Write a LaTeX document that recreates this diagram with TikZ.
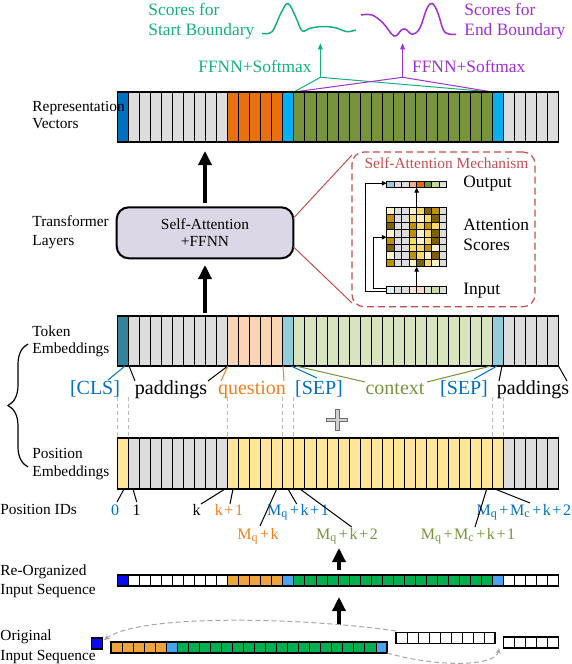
\documentclass[tikz,border=0pt]{standalone}
\usepackage{fontspec}
\setmainfont{Liberation Serif}
\usetikzlibrary{arrows.meta,decorations.pathreplacing}
\definecolor{repcls}{HTML}{0070C0}
\definecolor{reppad}{HTML}{DDDDDD}
\definecolor{repq}{HTML}{E8700F}
\definecolor{repsep}{HTML}{00B0F0}
\definecolor{repctx}{HTML}{77933C}
\definecolor{tokcls}{HTML}{31849B}
\definecolor{tokpad}{HTML}{DDDDDD}
\definecolor{tokq}{HTML}{FBD4B4}
\definecolor{toksep}{HTML}{92CDDC}
\definecolor{tokctx}{HTML}{D7E4BD}
\definecolor{poscls}{HTML}{FFE699}
\definecolor{pospad}{HTML}{DDDDDD}
\definecolor{posq}{HTML}{FFE699}
\definecolor{possep}{HTML}{FFE699}
\definecolor{posctx}{HTML}{FFE699}
\definecolor{reocls}{HTML}{0A0AF0}
\definecolor{reopad}{HTML}{FFFFFF}
\definecolor{reoq}{HTML}{EDA43F}
\definecolor{reosep}{HTML}{4AA3F0}
\definecolor{reoctx}{HTML}{00B050}
\definecolor{boxfill}{HTML}{DCD7E6}
\definecolor{redc}{HTML}{C0504D}
\definecolor{greenc}{HTML}{16B07A}
\definecolor{purplec}{HTML}{A030D0}
\definecolor{lblblue}{HTML}{0070C0}
\definecolor{lblorange}{HTML}{F07F20}
\definecolor{lblgreen}{HTML}{77933C}
\definecolor{dashgray}{HTML}{BBBBBB}
\definecolor{mL}{HTML}{FFF2CC}
\definecolor{mY}{HTML}{FFD966}
\definecolor{mA}{HTML}{BF9000}
\definecolor{mD}{HTML}{7F6000}
\definecolor{mG}{HTML}{DDDDDD}
\definecolor{oA}{HTML}{92CDDC}
\definecolor{oC}{HTML}{F4B183}
\definecolor{oD}{HTML}{E46C0A}
\definecolor{oE}{HTML}{77933C}
\definecolor{oF}{HTML}{C4D79B}
\definecolor{iA}{HTML}{DAEEF3}
\definecolor{iC}{HTML}{FCE4D6}
\definecolor{iD}{HTML}{FAD9C4}
\definecolor{iE}{HTML}{D7E4BD}
\definecolor{iF}{HTML}{C9DAA8}
\newcommand{\segcol}[2]{%
  \ifnum#1=0\relax\def\mycc{#2cls}%
  \else\ifnum#1<10\relax\def\mycc{#2pad}%
  \else\ifnum#1<15\relax\def\mycc{#2q}%
  \else\ifnum#1=15\relax\def\mycc{#2sep}%
  \else\ifnum#1<34\relax\def\mycc{#2ctx}%
  \else\ifnum#1=34\relax\def\mycc{#2sep}%
  \else\def\mycc{#2pad}%
  \fi\fi\fi\fi\fi\fi}
\newcommand{\cellbar}[3]{%
  \foreach \i in {0,...,39}{%
    \segcol{\i}{#1}%
    \filldraw[fill=\mycc,draw=black,line width=0.45pt] ({117.5+\i*11.025},#2) rectangle ({117.5+(\i+1)*11.025},#3);
  }%
  \draw[line width=0.7pt] (117.5,#2) rectangle (558.5,#3);
}
\newcommand{\plusq}{\hspace{0.1em}+\hspace{0.1em}}
\begin{document}
\begin{tikzpicture}[x=0.5pt,y=-0.5pt,
  lbl/.style={anchor=west,inner sep=0pt,font=\fontsize{7.7}{9}\selectfont,text height=5.2pt,text depth=1.6pt},
  big/.style={font=\fontsize{8.7}{10}\selectfont,inner sep=0pt,text height=5.9pt,text depth=1.8pt},
  tok/.style={font=\fontsize{10}{12}\selectfont,inner sep=0pt,text height=6.8pt,text depth=2pt},
  pid/.style={font=\fontsize{8}{9.6}\selectfont,inner sep=0pt,text height=5.5pt,text depth=1.5pt},
  thinl/.style={line width=0.5pt},
  bigarrow/.style={line width=1.65pt,-{Triangle[length=7pt,width=6.5pt]}},
  smarrow/.style={line width=0.5pt,-{Triangle[length=2.4pt,width=2.2pt]}},
  tinyarrow/.style={line width=0.5pt,-{Triangle[length=3pt,width=2.4pt]}},
  gdash/.style={dashgray,line width=0.5pt,dash pattern=on 2pt off 1.5pt},
  curvearrow/.style={gray!70,line width=0.5pt,dash pattern=on 2.5pt off 1.5pt,-{Stealth[length=3pt,width=2.6pt]}},
  cellw/.style={fill=white,draw=black,line width=0.45pt}]
\useasboundingbox (0,0) rectangle (572,664);

% ---------- top scores ----------
\node[big,text=greenc,anchor=west] (sc1) at (148,11.7) {Scores for};
\node[big,text=greenc,anchor=west] (sc2) at (148,31.7) {Start Boundary};
\node[big,text=purplec,anchor=west] (ec1) at (464,11.7) {Scores for};
\node[big,text=purplec,anchor=west] (ec2) at (464,31.7) {End Boundary};
\draw[greenc,line width=0.75pt] plot[smooth,tension=0.6] coordinates {(262,33.3) (272,31.7) (281,13) (288,3.5) (295.6,16.7) (302,30.7) (310,28.3) (319,26.7) (328.5,26.7) (337.6,28.3) (346.7,31.7) (355.8,30)};
\draw[purplec,line width=0.75pt] plot[smooth,tension=0.6] coordinates {(361,15) (372,15) (383,23) (394,36) (401.5,30) (405.8,29.3) (412.4,34.3) (419.7,28.3) (427,8.3) (432.5,3.5) (438,13.3) (443.4,30) (449,34) (456,34.3)};

\node[big,text=greenc,anchor=east] (fg) at (312,68.3) {FFNN+Softmax};
\node[big,text=purplec,anchor=west] (fp) at (411.7,68.3) {FFNN+Softmax};
\coordinate (ga) at (320.4,77.3);
\coordinate (gt) at (320.4,43.3);
\coordinate (pa) at (402.6,77.3);
\coordinate (pt) at (402.6,43.3);
\coordinate (cl) at (293.9,92);
\coordinate (cr) at (492.4,92);
\draw[greenc,tinyarrow] (ga) -- (gt);
\draw[greenc,thinl] (cl) -- (ga) -- (cr);
\draw[purplec,tinyarrow] (pa) -- (pt);
\draw[purplec,thinl] (cl) -- (pa) -- (cr);

% ---------- representation vectors ----------
\cellbar{rep}{92}{142}
\node[lbl] (lrep1) at (32,108) {Representation};
\node[lbl] (lrep2) at (32,125) {Vectors};

% ---------- transformer ----------
\coordinate (a1s) at (205,203);
\coordinate (a1e) at (205,151);
\draw[bigarrow] (a1s) -- (a1e);
\coordinate (a2s) at (205,313);
\coordinate (a2e) at (205,265);
\draw[bigarrow] (a2s) -- (a2e);
\node[draw,line width=1pt,fill=boxfill,rounded corners=6pt,minimum width=88.3pt,minimum height=25.5pt,align=center,font=\fontsize{7.7}{8.7}\selectfont,inner sep=0pt] (tbox) at (205,232.8) {Self-Attention\\+FFNN};
\node[lbl] (ltr1) at (32,223) {Transformer};
\node[lbl] (ltr2) at (32,242) {Layers};

% ---------- self-attention mechanism ----------
\node[draw=redc,line width=0.6pt,dash pattern=on 3.5pt off 2pt,rounded corners=6pt,minimum width=91.5pt,minimum height=77.35pt,inner sep=0pt] (sabox) at (443.5,229.35) {};
\coordinate (r1a) at (293.3,218.3);
\coordinate (r1b) at (352,155);
\coordinate (r2a) at (293.3,246.7);
\coordinate (r2b) at (352,303);
\draw[redc,thinl] (r1a) -- (r1b);
\draw[redc,thinl] (r2a) -- (r2b);
\node[font=\fontsize{7.7}{9}\selectfont,text=redc,inner sep=0pt] (satitle) at (446.5,163.5) {Self-Attention Mechanism};

\foreach \c [count=\k from 0] in {oA,mG,mG,oC,oD,oE,oF,mG}
  \filldraw[fill=\c,draw=black,line width=0.35pt] ({386.7+\k*7.5},181) rectangle ({386.7+(\k+1)*7.5},187.7);
\foreach \c [count=\k from 0] in {iA,mG,mG,iC,iD,iE,iF,mG}
  \filldraw[fill=\c,draw=black,line width=0.35pt] ({386.7+\k*7.5},286) rectangle ({386.7+(\k+1)*7.5},293.3);
\foreach \row [count=\r from 0] in {{mL,mG,mG,mL,mY,mD,mA,mG},{mA,mG,mG,mY,mL,mY,mD,mG},{mD,mG,mG,mA,mY,mA,mY,mG},{mL,mG,mG,mA,mL,mY,mD,mG},{mA,mG,mG,mY,mL,mY,mD,mG},{mD,mG,mG,mY,mY,mA,mL,mG},{mL,mG,mG,mA,mY,mL,mD,mG},{mA,mG,mG,mL,mD,mY,mL,mG}}{
  \foreach \c [count=\k from 0] in \row
    \filldraw[fill=\c,draw=black,line width=0.35pt] ({386.7+\k*7.5},{207.3+\r*7.42}) rectangle ({386.7+(\k+1)*7.5},{207.3+(\r+1)*7.42});
}
\coordinate (inT) at (416.7,286);
\coordinate (mB) at (416.7,266.7);
\coordinate (mT) at (416.7,207.3);
\coordinate (oB) at (416.7,187.7);
\draw[smarrow] (inT) -- (mB);
\draw[smarrow] (mT) -- (oB);
\coordinate (sk1a) at (386.7,291.6);
\coordinate (sk1b) at (365,291.6);
\coordinate (sk1c) at (365,183.3);
\coordinate (sk1d) at (386.7,183.3);
\draw[smarrow] (sk1a) -- (sk1b) -- (sk1c) -- (sk1d);
\coordinate (sk2a) at (386.7,288);
\coordinate (sk2b) at (373.3,288);
\coordinate (sk2c) at (373.3,237.3);
\coordinate (sk2d) at (386.7,237.3);
\draw[smarrow] (sk2a) -- (sk2b) -- (sk2c) -- (sk2d);
\node[big,anchor=west] (tout) at (463,183) {Output};
\node[big,anchor=west] (tatt) at (463,226) {Attention};
\node[big,anchor=west] (tsco) at (463,246.7) {Scores};
\node[big,anchor=west] (tin) at (463,290) {Input};

% ---------- token embeddings ----------
\cellbar{tok}{316}{366}
\node[lbl] (ltok1) at (32,333) {Token};
\node[lbl] (ltok2) at (32,350) {Embeddings};

\node[tok,text=lblblue] (tcls) at (95,390) {[CLS]};
\node[tok] (tpad1) at (171,390) {paddings};
\node[tok,text=lblorange] (tq) at (252,390) {question};
\node[tok,text=lblblue] (tsep1) at (319,390) {[SEP]};
\node[tok,text=lblgreen] (tctx) at (395,390) {context};
\node[tok,text=lblblue] (tsep2) at (464,390) {[SEP]};
\node[tok] (tpad2) at (533,390) {paddings};

\coordinate (tb0) at (125,366);  \coordinate (tl0) at (108,380);
\coordinate (tb1) at (129,366);  \coordinate (tl1) at (135,381);
\coordinate (tb2) at (227.8,366); \coordinate (tl2) at (208,381);
\coordinate (tb3) at (227.8,366); \coordinate (tl3) at (221,381);
\coordinate (tb4) at (283,366);  \coordinate (tl4) at (284,381);
\coordinate (tb5) at (291,366);  \coordinate (tl5) at (317,378);
\coordinate (tb6) at (296,366);  \coordinate (tl6) at (365,382);
\coordinate (tb7) at (491,366);  \coordinate (tl7) at (427,382);
\coordinate (tb8) at (497,366);  \coordinate (tl8) at (474,379);
\coordinate (tb9) at (502,366);  \coordinate (tl9) at (499,381);
\coordinate (tb10) at (558.5,366); \coordinate (tl10) at (567,381);
\draw[lblblue,thinl] (tb0) -- (tl0);
\draw[thinl] (tb1) -- (tl1);
\draw[thinl] (tb2) -- (tl2);
\draw[lblorange,thinl] (tb3) -- (tl3);
\draw[lblorange,thinl] (tb4) -- (tl4);
\draw[lblblue,thinl] (tb5) -- (tl5);
\draw[lblgreen,thinl] (tb6) -- (tl6);
\draw[lblgreen,thinl] (tb7) -- (tl7);
\draw[lblblue,thinl] (tb8) -- (tl8);
\draw[thinl] (tb9) -- (tl9);
\draw[thinl] (tb10) -- (tl10);

\foreach \x in {117.5,128.5,227.8,282.9,293.9,492.4,503.4}
  \draw[gdash] (\x,397) -- (\x,438);

% plus sign
\filldraw[fill=gray!35,draw=gray!85!black,line width=0.4pt]
  (335.6,409.5) -- (339,409.5) -- (339,418.3) -- (347.8,418.3) -- (347.8,421.7) -- (339,421.7) -- (339,430.5) -- (335.6,430.5) -- (335.6,421.7) -- (326.8,421.7) -- (326.8,418.3) -- (335.6,418.3) -- cycle;

% brace
\coordinate (brb) at (28,467);
\coordinate (brt) at (28,344);
\draw[decorate,decoration={brace,amplitude=10pt},line width=0.6pt] (brb) -- (brt);

% ---------- position embeddings ----------
\cellbar{pos}{438}{489}
\node[lbl] (lpos1) at (32,455) {Position};
\node[lbl] (lpos2) at (32,473) {Embeddings};

\node[lbl] (lpid) at (0,511) {Position IDs};
\node[pid,text=lblblue] (p0) at (115,511) {0};
\node[pid] (p1) at (136.7,511) {1};
\node[pid] (pk) at (196.7,511) {k};
\node[pid,text=lblorange] (pk1) at (229,511) {k\plusq 1};
\node[pid,text=lblblue] (pmk1) at (298,511) {M\textsubscript{q}\plusq k\plusq 1};
\node[pid,text=lblblue,anchor=east] (pmmk2) at (571.5,511) {M\textsubscript{q}\plusq M\textsubscript{c}\plusq k\plusq 2};
\node[pid,text=lblorange] (pmk) at (258,535) {M\textsubscript{q}\plusq k};
\node[pid,text=lblgreen] (pmk2) at (347,535) {M\textsubscript{q}\plusq k\plusq 2};
\node[pid,text=lblgreen] (pmmk1) at (468,535) {M\textsubscript{q}\plusq M\textsubscript{c}\plusq k\plusq 1};

\coordinate (pb0) at (124,489);   \coordinate (pl0) at (117,502);
\coordinate (pb1) at (133,489);   \coordinate (pl1) at (136.7,502);
\coordinate (pb2) at (225,489);   \coordinate (pl2) at (201,504);
\coordinate (pb3) at (233,489);   \coordinate (pl3) at (230,504);
\coordinate (pb4) at (276.7,489); \coordinate (pl4) at (260,526);
\coordinate (pb5) at (288,489);   \coordinate (pl5) at (296.7,504);
\coordinate (pb6) at (300,489);   \coordinate (pl6) at (351.7,527);
\coordinate (pb7) at (486.7,489); \coordinate (pl7) at (475,527);
\coordinate (pb8) at (495,489);   \coordinate (pl8) at (530,503);
\foreach \n in {0,...,8} \draw[thinl] (pb\n) -- (pl\n);

% ---------- re-organized sequence ----------
\coordinate (a4s) at (339,570);
\coordinate (a4e) at (339,548);
\draw[bigarrow] (a4s) -- (a4e);
\cellbar{reo}{575}{586}
\node[lbl] (lreo1) at (0,572) {Re-Organized};
\node[lbl] (lreo2) at (0,591) {Input Sequence};

\coordinate (a3s) at (339,625);
\coordinate (a3e) at (339,597);
\draw[bigarrow] (a3s) -- (a3e);

% ---------- original sequence ----------
\node[lbl] (lori1) at (0,637) {Original};
\node[lbl] (lori2) at (0,657) {Input Sequence};
\filldraw[fill=reocls,draw=black,line width=0.6pt] (91.2,638) rectangle (102.2,649);
\foreach \i in {0,...,24}{
  \ifnum\i<5\relax\def\mycc{reoq}\else\ifnum\i=5\relax\def\mycc{reosep}\else\ifnum\i<24\relax\def\mycc{reoctx}\else\def\mycc{reosep}\fi\fi\fi
  \filldraw[fill=\mycc,draw=black,line width=0.45pt] ({111+\i*11.04},642) rectangle ({111+(\i+1)*11.04},653);
}
\draw[line width=0.6pt] (111,642) rectangle (387,653);
\foreach \i in {0,...,8}
  \draw[cellw] ({396+\i*11},632.5) rectangle ({396+(\i+1)*11},643.5);
\draw[line width=0.6pt] (396,632.5) rectangle (495,643.5);
\foreach \i in {0,...,4}
  \draw[cellw] ({503.5+\i*11},637) rectangle ({503.5+(\i+1)*11},648);
\draw[line width=0.6pt] (503.5,637) rectangle (558.5,648);

\coordinate (cv1s) at (396,631);
\coordinate (cv1e) at (104,640);
\draw[curvearrow] (cv1s) .. controls (300,617) and (140,614) .. (cv1e);
\coordinate (cv2s) at (387,653);
\coordinate (cv2e) at (499,648);
\draw[curvearrow] (cv2s) .. controls (440,668) and (496,666) .. (cv2e);
\end{tikzpicture}
\end{document}
